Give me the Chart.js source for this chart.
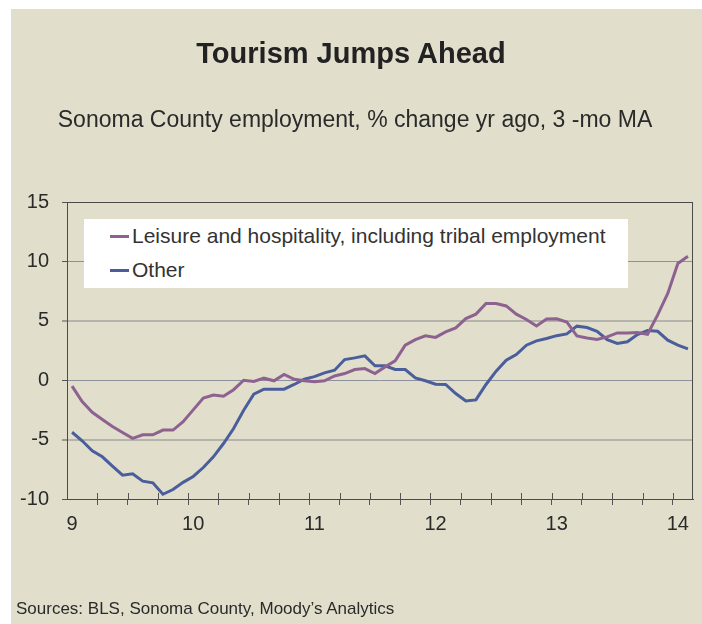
<!DOCTYPE html>
<html>
<head>
<meta charset="utf-8">
<script src="https://cdn.jsdelivr.net/npm/chart.js@4.4.1/dist/chart.umd.min.js"></script>
<style>
  body { margin: 0; background: #fff; font-family: 'Liberation Sans', Arial, sans-serif; }
  #painel { position: absolute; left: 11px; top: 9px; width: 691px; height: 615px; background: #e1dfcc; }
  #grafico { position: absolute; left: 0; top: 0; }
  .txt { position: absolute; white-space: nowrap; color: #222; }
  #titulo { left: 0; width: 702px; top: 36px; text-align: center; font-weight: bold; font-size: 29px; line-height: 34px; }
  #subtitulo { left: 8px; width: 694px; top: 105px; text-align: center; font-size: 23px; line-height: 28px; color: #2a2a2a; }
  #fonte { left: 16px; top: 599px; font-size: 17px; line-height: 20px; color: #2a2a2a; }
  #legenda { position: absolute; left: 84px; top: 219px; width: 544px; height: 69px; background: #fff; }
  .item { position: absolute; left: 26px; height: 24px; font-size: 21px; line-height: 24px; color: #333; white-space: nowrap; }
  .item i { position: absolute; left: 0; top: 10.5px; width: 19px; height: 3px; }
  .item span { position: absolute; left: 22px; top: 0; }
</style>
</head>
<body>
<div id="painel"></div>
<canvas id="grafico" width="702" height="624"></canvas>
<div class="txt" id="titulo">Tourism Jumps Ahead</div>
<div class="txt" id="subtitulo">Sonoma County employment, % change yr ago, 3 -mo MA</div>
<div id="legenda"></div>
<div class="txt" id="fonte">Sources: BLS, Sonoma County, Moody’s Analytics</div>
<script>
// meses de jan/2009 a fev/2014
var meses = [
  'Jan 09','Feb 09','Mar 09','Apr 09','May 09','Jun 09','Jul 09','Aug 09','Sep 09','Oct 09','Nov 09','Dec 09',
  'Jan 10','Feb 10','Mar 10','Apr 10','May 10','Jun 10','Jul 10','Aug 10','Sep 10','Oct 10','Nov 10','Dec 10',
  'Jan 11','Feb 11','Mar 11','Apr 11','May 11','Jun 11','Jul 11','Aug 11','Sep 11','Oct 11','Nov 11','Dec 11',
  'Jan 12','Feb 12','Mar 12','Apr 12','May 12','Jun 12','Jul 12','Aug 12','Sep 12','Oct 12','Nov 12','Dec 12',
  'Jan 13','Feb 13','Mar 13','Apr 13','May 13','Jun 13','Jul 13','Aug 13','Sep 13','Oct 13','Nov 13','Dec 13',
  'Jan 14','Feb 14'
];
var anos = ['9', '10', '11', '12', '13', '14'];
var yTicks = [15, 10, 5, 0, -5, -10];

var lazer = [
  -0.5, -1.8, -2.7, -3.3, -3.9, -4.4, -4.9, -4.6, -4.6, -4.2, -4.2, -3.5,
  -2.5, -1.5, -1.25, -1.35, -0.8, 0.0, -0.1, 0.17, -0.05, 0.48, 0.08, -0.05,
  -0.12, -0.05, 0.36, 0.56, 0.9, 0.98, 0.56, 1.12, 1.63, 2.95, 3.42, 3.73,
  3.6, 4.07, 4.4, 5.19, 5.56, 6.45, 6.45, 6.25, 5.56, 5.11, 4.57, 5.15,
  5.17, 4.9, 3.73, 3.56, 3.42, 3.65, 3.98, 3.98, 4.01, 3.87, 5.5, 7.3,
  9.82, 10.44
];
var outros = [
  -4.38, -5.1, -5.95, -6.45, -7.24, -8.0, -7.88, -8.5, -8.64, -9.6, -9.2, -8.6,
  -8.1, -7.35, -6.45, -5.33, -4.07, -2.53, -1.18, -0.76, -0.76, -0.76, -0.36, 0.08,
  0.3, 0.62, 0.84, 1.74, 1.88, 2.05, 1.21, 1.21, 0.9, 0.9, 0.2, -0.05,
  -0.34, -0.36, -1.12, -1.74, -1.66, -0.36, 0.76, 1.68, 2.16, 2.95, 3.31, 3.51,
  3.75, 3.9, 4.55, 4.43, 4.12, 3.42, 3.09, 3.23, 3.84, 4.18, 4.12, 3.37,
  2.95, 2.64
];
var nomes = ['Leisure and hospitality, including tribal employment', 'Other'];
var cores = ['#8d6290', '#4a5e9c'];

var fonteEixo = { family: "'Liberation Sans', Arial, sans-serif", size: 20 };

// moldura do gráfico e a parte interna dos tiques trimestrais
var moldura = {
  id: 'moldura',
  beforeDatasetsDraw: function(chart) {
    var ctx = chart.ctx, a = chart.chartArea, x = chart.scales.x;
    var meio = (x.getPixelForValue(1) - x.getPixelForValue(0)) / 2;
    ctx.save();
    ctx.strokeStyle = '#555';
    ctx.lineWidth = 1;
    ctx.beginPath();
    for (var i = 3; i < meses.length; i += 3) {
      var px = Math.round(x.getPixelForValue(i) - meio) + 0.5;
      ctx.moveTo(px, a.bottom - 6);
      ctx.lineTo(px, a.bottom);
    }
    ctx.stroke();
    ctx.strokeStyle = '#4a4a4a';
    ctx.strokeRect(Math.round(a.left) + 0.5, Math.round(a.top) + 0.5, Math.round(a.right - a.left) - 1, Math.round(a.bottom - a.top));
    ctx.restore();
  }
};

var grafico = new Chart(document.getElementById('grafico'), {
  type: 'line',
  data: {
    labels: meses,
    datasets: [{
      label: nomes[0],
      data: lazer,
      borderColor: cores[0],
      borderWidth: 3,
      pointRadius: 0,
      tension: 0
    }, {
      label: nomes[1],
      data: outros,
      borderColor: cores[1],
      borderWidth: 3,
      pointRadius: 0,
      tension: 0
    }]
  },
  options: {
    responsive: false,
    animation: false,
    devicePixelRatio: 1,
    layout: { padding: { top: 202, right: 9, bottom: 85, left: 0 } },
    scales: {
      x: {
        type: 'category',
        offset: true,
        afterFit: function(scale) { scale.height = 40; },
        grid: {
          offset: true,
          drawOnChartArea: false,
          tickLength: 6,
          tickWidth: 1,
          tickColor: function(c) { return (c.index % 3 === 0 && c.index > 0 && c.index < meses.length) ? '#555' : 'rgba(0,0,0,0)'; }
        },
        border: { display: true, color: '#4a4a4a', width: 1 },
        ticks: {
          autoSkip: false,
          maxRotation: 0,
          padding: 7,
          color: '#2a2a2a',
          font: fonteEixo,
          callback: function(v, i) { return i % 12 === 0 ? anos[i / 12] : ''; }
        }
      },
      y: {
        min: -10,
        max: 15,
        afterFit: function(scale) { scale.width = 67; },
        afterBuildTicks: function(scale) { scale.ticks = yTicks.map(function(v) { return { value: v }; }); },
        grid: {
          color: function(c) {
            var v = c.tick ? c.tick.value : 0;
            return (v === 5 || v === -5) ? '#b4b4ad' : '#8b919d';
          },
          lineWidth: function(c) {
            var v = c.tick ? c.tick.value : 0;
            return (v === 5 || v === -5) ? 2 : 1;
          },
          tickLength: 5,
          tickWidth: 1,
          tickColor: '#555'
        },
        border: { display: true, color: '#4a4a4a', width: 1 },
        ticks: {
          padding: 13,
          color: '#2a2a2a',
          font: fonteEixo
        }
      }
    },
    plugins: {
      legend: { display: false },
      tooltip: { enabled: false }
    }
  },
  plugins: [moldura]
});

// legenda em html, dentro da área do gráfico
var leg = document.getElementById('legenda');
grafico.data.datasets.forEach(function(ds, k) {
  var d = document.createElement('div');
  d.className = 'item';
  d.style.top = (5 + k * 34) + 'px';
  d.innerHTML = '<i style="background:' + ds.borderColor + '"></i><span></span>';
  d.querySelector('span').textContent = ds.label;
  leg.appendChild(d);
});
</script>
</body>
</html>
